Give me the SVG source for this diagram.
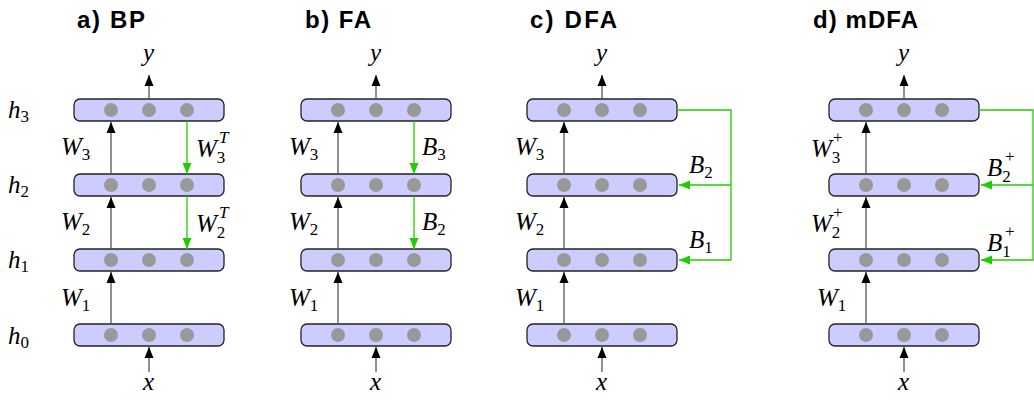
<svg xmlns="http://www.w3.org/2000/svg" width="1034" height="400" viewBox="0 0 1034 400">
<style>
.box{fill:#ccccff;stroke:#222;stroke-width:1.3}
.dot{fill:#999}
.fw{stroke:#555;stroke-width:1.3;fill:none}
.fb{stroke:#22cc00;stroke-width:1.3;fill:none}
.title{font-family:"Liberation Sans",Arial,sans-serif;font-weight:bold;font-size:24px;fill:#000}
.m{font-family:"Liberation Serif","Times New Roman",serif;font-style:italic;font-size:25px;fill:#000}
.s{font-style:normal;font-size:17px}
.si{font-style:italic;font-size:17px}
</style>
<defs>
<marker id="ab" markerUnits="userSpaceOnUse" markerWidth="12" markerHeight="12" viewBox="0 0 12 12" refX="11" refY="6" orient="auto">
<path d="M0,1.5 L11,6 L0,10.5 Z" fill="#000"/>
</marker>
<marker id="ag" markerUnits="userSpaceOnUse" markerWidth="12" markerHeight="12" viewBox="0 0 12 12" refX="11" refY="6" orient="auto">
<path d="M0,1.5 L11,6 L0,10.5 Z" fill="#22cc00"/>
</marker>
<g id="layer">
<rect class="box" x="74" y="0" width="150" height="22" rx="6"/>
<circle class="dot" cx="111" cy="11" r="7"/>
<circle class="dot" cx="149" cy="11" r="7"/>
<circle class="dot" cx="187" cy="11" r="7"/>
</g>
</defs>

<g id="left-labels">
<text class="m" x="8" y="118">h<tspan class="s" dy="4">3</tspan></text>
<text class="m" x="8" y="193">h<tspan class="s" dy="4">2</tspan></text>
<text class="m" x="8" y="268">h<tspan class="s" dy="4">1</tspan></text>
<text class="m" x="8" y="344">h<tspan class="s" dy="4">0</tspan></text>
</g>

<!-- Panel a -->
<g id="panel-a">
<text class="title" x="77" y="28" textLength="68" lengthAdjust="spacing">a) BP</text>
<g id="a-h3"><use href="#layer" y="99"/></g>
<g id="a-h2"><use href="#layer" y="174"/></g>
<g id="a-h1"><use href="#layer" y="249"/></g>
<g id="a-h0"><use href="#layer" y="324"/></g>
<g id="a-connectors">
<line class="fw" x1="149" y1="99" x2="149" y2="75" marker-end="url(#ab)"/>
<line class="fw" x1="149" y1="372" x2="149" y2="347" marker-end="url(#ab)"/>
<line class="fw" x1="111" y1="324" x2="111" y2="272" marker-end="url(#ab)"/>
<line class="fw" x1="111" y1="249" x2="111" y2="197" marker-end="url(#ab)"/>
<line class="fw" x1="111" y1="174" x2="111" y2="122" marker-end="url(#ab)"/>
<line class="fb" x1="187" y1="121" x2="187" y2="174" marker-end="url(#ag)"/>
<line class="fb" x1="187" y1="196" x2="187" y2="249" marker-end="url(#ag)"/>
</g>
<text class="m" x="143" y="61">y</text>
<text class="m" x="143" y="390">x</text>
<text class="m" x="61" y="155">W<tspan class="s" dy="5">3</tspan></text>
<text class="m" x="61" y="230">W<tspan class="s" dy="5">2</tspan></text>
<text class="m" x="61" y="306">W<tspan class="s" dy="5">1</tspan></text>
<text class="m" x="196" y="157">W<tspan class="s" dy="6">3</tspan></text>
<text class="si" x="219" y="143" font-family="Liberation Serif, serif">T</text>
<text class="m" x="196" y="232">W<tspan class="s" dy="6">2</tspan></text>
<text class="si" x="219" y="218" font-family="Liberation Serif, serif">T</text>
</g>

<!-- Panel b -->
<g id="panel-b" transform="translate(227,0)">
<text class="title" x="78" y="28" textLength="66" lengthAdjust="spacing">b) FA</text>
<g id="b-h3"><use href="#layer" y="99"/></g>
<g id="b-h2"><use href="#layer" y="174"/></g>
<g id="b-h1"><use href="#layer" y="249"/></g>
<g id="b-h0"><use href="#layer" y="324"/></g>
<g id="b-connectors">
<line class="fw" x1="149" y1="99" x2="149" y2="75" marker-end="url(#ab)"/>
<line class="fw" x1="149" y1="372" x2="149" y2="347" marker-end="url(#ab)"/>
<line class="fw" x1="111" y1="324" x2="111" y2="272" marker-end="url(#ab)"/>
<line class="fw" x1="111" y1="249" x2="111" y2="197" marker-end="url(#ab)"/>
<line class="fw" x1="111" y1="174" x2="111" y2="122" marker-end="url(#ab)"/>
<line class="fb" x1="187" y1="121" x2="187" y2="174" marker-end="url(#ag)"/>
<line class="fb" x1="187" y1="196" x2="187" y2="249" marker-end="url(#ag)"/>
</g>
<text class="m" x="143" y="61">y</text>
<text class="m" x="143" y="390">x</text>
<text class="m" x="62" y="155">W<tspan class="s" dy="5">3</tspan></text>
<text class="m" x="62" y="230">W<tspan class="s" dy="5">2</tspan></text>
<text class="m" x="62" y="306">W<tspan class="s" dy="5">1</tspan></text>
<text class="m" x="195" y="155">B<tspan class="s" dy="5">3</tspan></text>
<text class="m" x="195" y="230">B<tspan class="s" dy="5">2</tspan></text>
</g>

<!-- Panel c -->
<g id="panel-c" transform="translate(453,0)">
<text class="title" x="77" y="28" textLength="87" lengthAdjust="spacing">c) DFA</text>
<g id="c-h3"><use href="#layer" y="99"/></g>
<g id="c-h2"><use href="#layer" y="174"/></g>
<g id="c-h1"><use href="#layer" y="249"/></g>
<g id="c-h0"><use href="#layer" y="324"/></g>
<g id="c-connectors">
<line class="fw" x1="149" y1="99" x2="149" y2="75" marker-end="url(#ab)"/>
<line class="fw" x1="149" y1="372" x2="149" y2="347" marker-end="url(#ab)"/>
<line class="fw" x1="111" y1="324" x2="111" y2="272" marker-end="url(#ab)"/>
<line class="fw" x1="111" y1="249" x2="111" y2="197" marker-end="url(#ab)"/>
<line class="fw" x1="111" y1="174" x2="111" y2="122" marker-end="url(#ab)"/>
<path class="fb" d="M224,110 H278 V260 H226" marker-end="url(#ag)"/>
<line class="fb" x1="278" y1="185" x2="226" y2="185" marker-end="url(#ag)"/>
</g>
<text class="m" x="143" y="61">y</text>
<text class="m" x="143" y="390">x</text>
<text class="m" x="62" y="155">W<tspan class="s" dy="5">3</tspan></text>
<text class="m" x="62" y="230">W<tspan class="s" dy="5">2</tspan></text>
<text class="m" x="62" y="306">W<tspan class="s" dy="5">1</tspan></text>
<text class="m" x="236" y="173">B<tspan class="s" dy="5">2</tspan></text>
<text class="m" x="236" y="248">B<tspan class="s" dy="5">1</tspan></text>
</g>

<!-- Panel d -->
<g id="panel-d" transform="translate(755,0)">
<text class="title" x="58" y="28" textLength="105" lengthAdjust="spacing">d) mDFA</text>
<g id="d-h3"><use href="#layer" y="99"/></g>
<g id="d-h2"><use href="#layer" y="174"/></g>
<g id="d-h1"><use href="#layer" y="249"/></g>
<g id="d-h0"><use href="#layer" y="324"/></g>
<g id="d-connectors">
<line class="fw" x1="149" y1="99" x2="149" y2="75" marker-end="url(#ab)"/>
<line class="fw" x1="149" y1="372" x2="149" y2="347" marker-end="url(#ab)"/>
<line class="fw" x1="111" y1="324" x2="111" y2="272" marker-end="url(#ab)"/>
<line class="fw" x1="111" y1="249" x2="111" y2="197" marker-end="url(#ab)"/>
<line class="fw" x1="111" y1="174" x2="111" y2="122" marker-end="url(#ab)"/>
<path class="fb" d="M224,110 H278 V260 H226" marker-end="url(#ag)"/>
<line class="fb" x1="278" y1="185" x2="226" y2="185" marker-end="url(#ag)"/>
</g>
<text class="m" x="143" y="61">y</text>
<text class="m" x="143" y="390">x</text>
<text class="m" x="56" y="157">W<tspan class="s" dy="6">3</tspan></text>
<text class="s" x="78" y="143" font-family="Liberation Serif, serif">+</text>
<text class="m" x="56" y="232">W<tspan class="s" dy="6">2</tspan></text>
<text class="s" x="78" y="218" font-family="Liberation Serif, serif">+</text>
<text class="m" x="62" y="306">W<tspan class="s" dy="5">1</tspan></text>
<text class="m" x="232" y="176">B<tspan class="s" dy="6">2</tspan></text>
<text class="s" x="250" y="162" font-family="Liberation Serif, serif">+</text>
<text class="m" x="232" y="251">B<tspan class="s" dy="6">1</tspan></text>
<text class="s" x="250" y="237" font-family="Liberation Serif, serif">+</text>
</g>
</svg>
